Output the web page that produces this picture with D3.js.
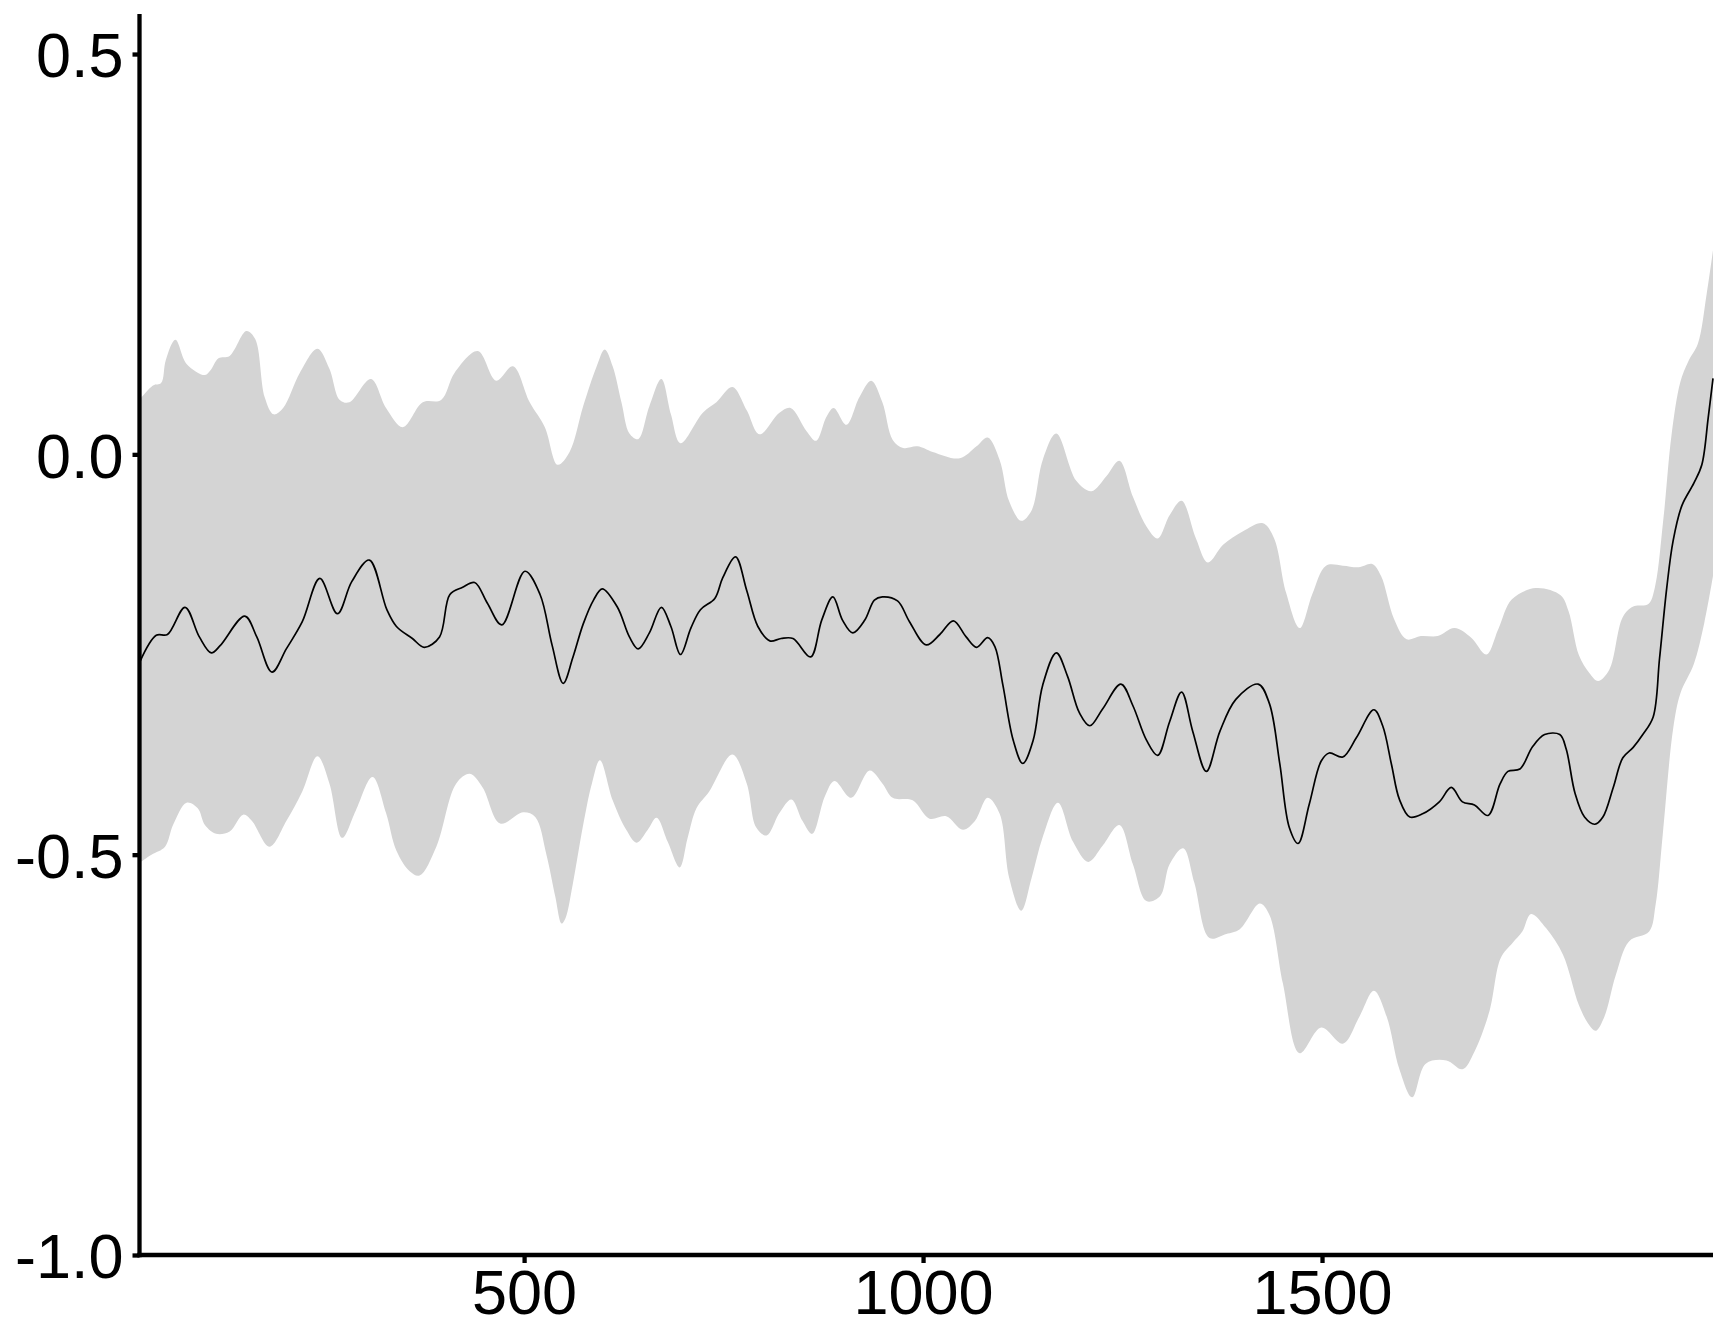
<!DOCTYPE html>
<html>
<head>
<meta charset="utf-8">
<script src="https://cdn.jsdelivr.net/npm/d3@7"></script>
<style>
  html, body { margin: 0; padding: 0; background: #ffffff; }
  svg { display: block; }
  text { font-family: "Liberation Sans", Arial, sans-serif; }
</style>
</head>
<body>
<svg id="chart" width="1728" height="1344"></svg>
<script>
// ---------------- data (year, value) ----------------
const meanSeries = [
  [18,-0.260],[39,-0.226],[53,-0.225],[75,-0.191],[93,-0.228],[108,-0.248],[119,-0.239],[150,-0.202],
  [165,-0.228],[184,-0.272],[202,-0.243],[222,-0.209],[244,-0.155],[266,-0.199],[284,-0.159],[306,-0.132],
  [328,-0.194],[340,-0.215],[360,-0.230],[375,-0.241],[394,-0.228],[407,-0.175],[423,-0.166],[438,-0.160],
  [454,-0.186],[472,-0.213],[501,-0.146],[520,-0.175],[535,-0.238],[549,-0.286],[561,-0.254],[574,-0.212],
  [587,-0.182],[598,-0.168],[617,-0.191],[632,-0.228],[643,-0.243],[657,-0.223],[672,-0.191],[684,-0.215],
  [696,-0.250],[709,-0.217],[721,-0.194],[739,-0.180],[749,-0.154],[765,-0.128],[779,-0.170],[793,-0.215],
  [808,-0.233],[822,-0.230],[837,-0.230],[859,-0.253],[873,-0.207],[887,-0.178],[899,-0.207],[912,-0.223],
  [927,-0.207],[939,-0.182],[949,-0.178],[968,-0.183],[983,-0.209],[1004,-0.238],[1021,-0.225],[1038,-0.208],
  [1054,-0.228],[1067,-0.241],[1081,-0.229],[1090,-0.240],[1100,-0.288],[1113,-0.357],[1125,-0.386],[1138,-0.357],
  [1150,-0.288],[1167,-0.248],[1181,-0.277],[1196,-0.323],[1209,-0.339],[1225,-0.318],[1248,-0.287],[1263,-0.314],
  [1280,-0.357],[1294,-0.376],[1309,-0.334],[1324,-0.297],[1338,-0.346],[1355,-0.396],[1372,-0.346],[1392,-0.306],
  [1420,-0.287],[1434,-0.311],[1447,-0.386],[1459,-0.466],[1470,-0.486],[1484,-0.437],[1499,-0.383],[1509,-0.373],
  [1526,-0.378],[1543,-0.354],[1565,-0.319],[1576,-0.339],[1587,-0.387],[1597,-0.431],[1610,-0.453],[1626,-0.449],
  [1647,-0.434],[1662,-0.416],[1676,-0.434],[1691,-0.438],[1708,-0.451],[1723,-0.412],[1733,-0.396],[1748,-0.393],
  [1764,-0.365],[1779,-0.350],[1798,-0.350],[1806,-0.368],[1817,-0.423],[1829,-0.453],[1842,-0.462],[1852,-0.453],
  [1865,-0.416],[1877,-0.379],[1890,-0.366],[1902,-0.350],[1915,-0.328],[1923,-0.255],[1932,-0.167],[1940,-0.108],
  [1951,-0.064],[1966,-0.036],[1976,-0.013],[1984,0.046],[1990,0.095]
];

const upperSeries = [
  [18,0.068],[35,0.086],[45,0.089],[51,0.118],[63,0.143],[77,0.113],[100,0.099],[107,0.105],[117,0.120],
  [131,0.123],[152,0.154],[163,0.144],[175,0.071],[186,0.050],[198,0.058],[219,0.102],[241,0.132],[256,0.107],
  [269,0.068],[281,0.065],[308,0.094],[327,0.058],[348,0.034],[373,0.065],[396,0.068],[413,0.102],[442,0.129],
  [465,0.092],[486,0.110],[507,0.065],[526,0.034],[542,-0.013],[557,0.003],[574,0.060],[591,0.110],[601,0.131],
  [611,0.110],[622,0.065],[632,0.026],[643,0.019],[657,0.060],[672,0.094],[684,0.050],[696,0.014],[724,0.052],
  [741,0.065],[761,0.084],[779,0.055],[795,0.025],[820,0.052],[834,0.058],[854,0.029],[866,0.017],[879,0.047],
  [888,0.058],[904,0.037],[920,0.071],[935,0.092],[949,0.065],[962,0.018],[975,0.008],[993,0.010],[1012,0.003],
  [1046,-0.005],[1067,0.010],[1081,0.021],[1096,-0.007],[1108,-0.059],[1123,-0.083],[1136,-0.070],[1150,-0.007],
  [1167,0.026],[1192,-0.033],[1211,-0.046],[1230,-0.027],[1246,-0.008],[1263,-0.053],[1280,-0.090],[1294,-0.105],
  [1309,-0.076],[1324,-0.058],[1342,-0.105],[1357,-0.135],[1376,-0.113],[1401,-0.096],[1426,-0.086],[1440,-0.105],
  [1455,-0.173],[1472,-0.217],[1488,-0.174],[1505,-0.139],[1526,-0.139],[1546,-0.141],[1563,-0.137],[1574,-0.152],
  [1590,-0.205],[1606,-0.231],[1624,-0.227],[1645,-0.227],[1666,-0.217],[1687,-0.229],[1706,-0.250],[1721,-0.218],
  [1738,-0.181],[1768,-0.167],[1799,-0.176],[1809,-0.196],[1822,-0.251],[1835,-0.273],[1846,-0.283],[1860,-0.269],
  [1877,-0.203],[1890,-0.190],[1909,-0.187],[1917,-0.167],[1928,-0.079],[1938,0.024],[1949,0.090],[1959,0.116],
  [1971,0.138],[1982,0.200],[1990,0.255]
];

const lowerSeries = [
  [18,-0.510],[33,-0.500],[50,-0.490],[60,-0.463],[77,-0.435],[91,-0.442],[100,-0.463],[114,-0.474],[131,-0.471],
  [148,-0.450],[159,-0.458],[181,-0.490],[202,-0.458],[222,-0.421],[241,-0.377],[256,-0.411],[272,-0.479],[289,-0.445],
  [310,-0.403],[327,-0.448],[340,-0.495],[357,-0.521],[369,-0.526],[390,-0.490],[415,-0.411],[432,-0.399],[448,-0.416],
  [470,-0.461],[499,-0.447],[514,-0.453],[528,-0.500],[539,-0.552],[547,-0.586],[552,-0.579],[561,-0.537],[574,-0.463],
  [585,-0.411],[595,-0.382],[611,-0.432],[628,-0.469],[641,-0.485],[655,-0.469],[666,-0.454],[680,-0.484],[695,-0.516],
  [705,-0.479],[716,-0.442],[732,-0.421],[761,-0.375],[779,-0.411],[791,-0.466],[804,-0.476],[820,-0.448],[835,-0.431],
  [849,-0.458],[861,-0.474],[877,-0.427],[889,-0.408],[910,-0.429],[933,-0.395],[949,-0.411],[962,-0.429],[987,-0.432],
  [1008,-0.455],[1029,-0.452],[1050,-0.469],[1065,-0.458],[1081,-0.429],[1096,-0.449],[1108,-0.529],[1123,-0.570],
  [1136,-0.529],[1150,-0.478],[1169,-0.435],[1188,-0.484],[1207,-0.509],[1225,-0.489],[1246,-0.463],[1263,-0.512],
  [1280,-0.558],[1297,-0.552],[1309,-0.512],[1326,-0.492],[1340,-0.535],[1359,-0.604],[1380,-0.599],[1397,-0.593],
  [1422,-0.561],[1434,-0.575],[1451,-0.661],[1472,-0.748],[1499,-0.716],[1526,-0.736],[1547,-0.702],[1565,-0.670],
  [1581,-0.702],[1597,-0.768],[1613,-0.803],[1630,-0.761],[1656,-0.757],[1676,-0.768],[1691,-0.746],[1710,-0.695],
  [1724,-0.629],[1739,-0.610],[1751,-0.596],[1762,-0.574],[1781,-0.592],[1802,-0.625],[1822,-0.688],[1835,-0.713],
  [1843,-0.720],[1854,-0.702],[1868,-0.651],[1885,-0.608],[1910,-0.596],[1918,-0.563],[1927,-0.475],[1940,-0.343],
  [1949,-0.299],[1966,-0.262],[1979,-0.211],[1990,-0.152]
];

const xDomain = [18, 1990];
const yDomain = [-1.0, 0.55];
const xTickValues = [500, 1000, 1500];
const yTickValues = [-1.0, -0.5, 0.0, 0.5];

// ---------------- layout ----------------
const svg = d3.select("#chart");
const plotLeft = 139.5, plotRight = 1713, plotTop = 14, plotBottom = 1255;

const x = d3.scaleLinear().domain(xDomain).range([plotLeft, plotRight]);
const y = d3.scaleLinear().domain(yDomain).range([plotBottom, plotTop]);

const lineGen = d3.line()
  .x(d => x(d[0]))
  .y(d => y(d[1]))
  .curve(d3.curveCatmullRom.alpha(0.5));

// band (ribbon)
const upperPath = lineGen(upperSeries);
const lowerPath = lineGen(lowerSeries.slice().reverse());
svg.append("path")
  .attr("d", upperPath + "L" + lowerPath.slice(1) + "Z")
  .attr("fill", "#d4d4d4")
  .attr("stroke", "none");

// mean line
svg.append("path")
  .datum(meanSeries)
  .attr("d", lineGen)
  .attr("fill", "none")
  .attr("stroke", "#000000")
  .attr("stroke-width", 1.7)
  .attr("stroke-linejoin", "round");

// ---------------- axes ----------------
const fontSize = 63;
const yFmt = v => d3.format(".1f")(v).replace("\u2212", "-");

const yAxis = d3.axisLeft(y)
  .tickValues(yTickValues)
  .tickFormat(yFmt)
  .tickSize(7)
  .tickPadding(9);

const gy = svg.append("g")
  .attr("transform", `translate(${plotLeft},0)`)
  .call(yAxis);
gy.select(".domain").remove();
gy.selectAll(".tick line").attr("stroke", "#000").attr("stroke-width", 4.3);
gy.selectAll(".tick text")
  .attr("font-size", fontSize)
  .attr("fill", "#000")
  .attr("dy", "0.36em")
  .attr("font-family", "'Liberation Sans', Arial, sans-serif");

const xAxis = d3.axisBottom(x)
  .tickValues(xTickValues)
  .tickFormat(d3.format("d"))
  .tickSize(8)
  .tickPadding(6);

const gx = svg.append("g")
  .attr("transform", `translate(0,${plotBottom})`)
  .call(xAxis);
gx.select(".domain").remove();
gx.selectAll(".tick line").attr("stroke", "#000").attr("stroke-width", 4.3);
gx.selectAll(".tick text")
  .attr("font-size", fontSize)
  .attr("fill", "#000")
  .attr("dy", "0.71em")
  .attr("font-family", "'Liberation Sans', Arial, sans-serif");

// axis lines
svg.append("line")
  .attr("x1", plotLeft).attr("x2", plotLeft)
  .attr("y1", plotTop).attr("y2", plotBottom + 2.15)
  .attr("stroke", "#000").attr("stroke-width", 4.3);
svg.append("line")
  .attr("x1", plotLeft - 2.15).attr("x2", plotRight)
  .attr("y1", plotBottom).attr("y2", plotBottom)
  .attr("stroke", "#000").attr("stroke-width", 4.3);
</script>
</body>
</html>
